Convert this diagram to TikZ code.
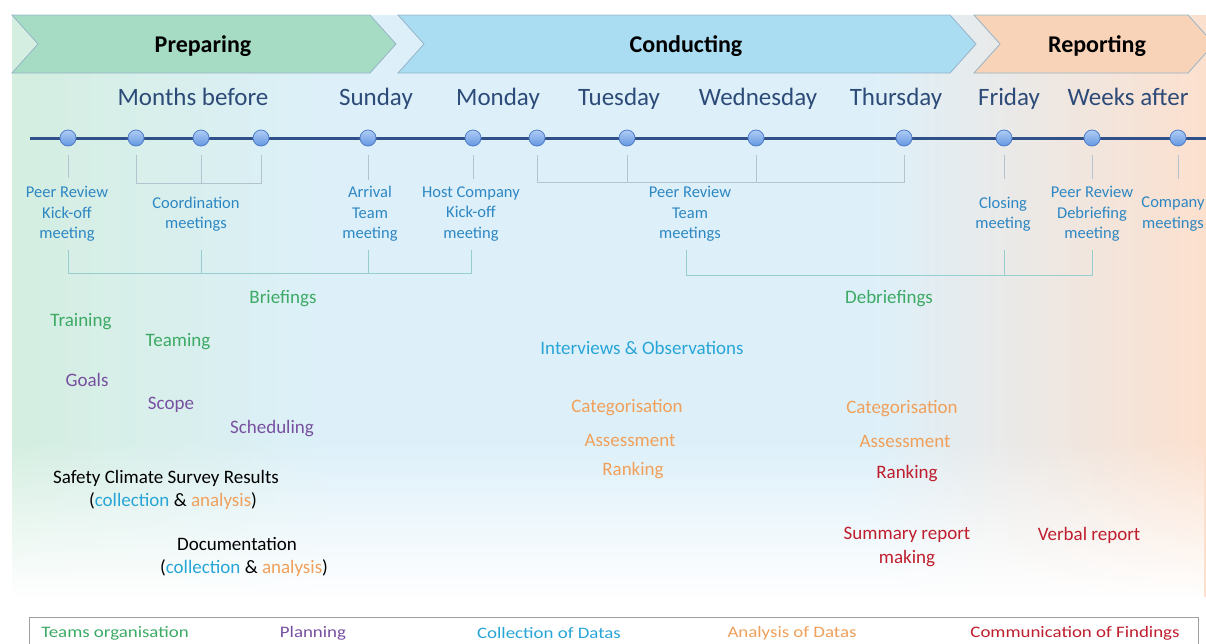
\documentclass[tikz,border=0pt]{standalone}
\usepackage{fontspec}
\setmainfont{Carlito}
\usetikzlibrary{fadings}
\definecolor{bgG}{RGB}{212,238,224}
\definecolor{bgB}{RGB}{221,240,250}
\definecolor{bgP}{RGB}{252,224,206}
\definecolor{prepF}{RGB}{166,220,196}
\definecolor{condF}{RGB}{170,220,242}
\definecolor{repF}{RGB}{248,211,184}
\definecolor{chevD}{RGB}{150,180,200}
\definecolor{dayblue}{RGB}{45,75,120}
\definecolor{lineblue}{RGB}{47,80,137}
\definecolor{dotT}{RGB}{175,205,245}
\definecolor{dotBt}{RGB}{100,150,225}
\definecolor{dotD}{RGB}{80,125,200}
\definecolor{lblue}{RGB}{45,135,195}
\definecolor{cgreen}{RGB}{60,170,100}
\definecolor{cpurple}{RGB}{120,80,160}
\definecolor{ccyan}{RGB}{40,165,215}
\definecolor{corange}{RGB}{240,160,90}
\definecolor{cred}{RGB}{190,30,45}
\definecolor{tickgray}{RGB}{180,195,205}
\definecolor{brteal}{RGB}{150,205,205}
\begin{document}
\begin{tikzpicture}[x=1pt,y=-1pt,
  chev/.style={draw=chevD, line width=0.8pt},
  title/.style={font=\fontsize{24}{28}\selectfont\bfseries, inner sep=0, anchor=base},
  day/.style={font=\fontsize{25}{30}\selectfont, text=dayblue, inner sep=0, anchor=base},
  dot/.style={circle, minimum size=16pt, inner sep=0, draw=dotD, line width=0.8pt, top color=dotT, bottom color=dotBt},
  lbl/.style={font=\fontsize{16.5}{20.5}\selectfont, text=lblue, align=center, inner sep=0},
  act/.style={font=\fontsize{19}{23.5}\selectfont, align=center, inner sep=0},
  leg/.style={font=\fontsize{16}{19}\selectfont, inner sep=0},
  tick/.style={draw=tickgray, line width=0.8pt},
  brack/.style={draw=brteal, line width=0.9pt}
]
\useasboundingbox (0,0) rectangle (1206,643);
% background
\shade[left color=bgG, right color=bgB] (12,15) rectangle (330.5,600);
\fill[bgB] (330,15) rectangle (870.5,600);
\shade[left color=bgB, right color=bgP] (870,15) rectangle (1206,600);
\fill[white, path fading=north] (0,440) rectangle (1206,598);
\fill[white] (0,597) rectangle (1206,643);
% chevrons
\path[chev, fill=prepF] (12,15) -- (370,15) -- (396,44) -- (370,73) -- (12,73) -- (38,44) -- cycle;
\path[chev, fill=condF] (398,15) -- (950,15) -- (976,44) -- (950,73) -- (398,73) -- (424,44) -- cycle;
\path[chev, fill=repF] (974,15) -- (1188,15) -- (1214,44) -- (1188,73) -- (974,73) -- (1000,44) -- cycle;
\node[title] (tprep) at (203,52) {Preparing};
\node[title] (tcond) at (686,52) {Conducting};
\node[title] (trep) at (1097,52) {Reporting};
% days
\node[day] (months) at (193,105) {Months before};
\node[day] (sun) at (376,105) {Sunday};
\node[day] (mon) at (498,105) {Monday};
\node[day] (tue) at (619,105) {Tuesday};
\node[day] (wed) at (758,105) {Wednesday};
\node[day] (thu) at (896,105) {Thursday};
\node[day] (fri) at (1009,105) {Friday};
\node[day] (wks) at (1128,105) {Weeks after};
% timeline
\coordinate (tlA) at (30,138);
\coordinate (tlB) at (1206,138);
\draw[lineblue, line width=3pt] (tlA) -- (tlB);
\foreach \i/\x in {1/68,2/136,3/201,4/261,5/368,6/473,7/537,8/627,9/756,10/904,11/1004,12/1092,13/1178}
  \node[dot] (d\i) at (\x,138) {};
% upper ticks
\draw[tick] (d1.south) ++(0,9) -- ++(0,23);
\draw[tick] (d2.south) ++(0,9) -- ++(0,28) -| (d4.south |- 0,155);
\draw[tick] (d3.south) ++(0,9) -- ++(0,28);
\draw[tick] (d5.south) ++(0,9) -- ++(0,25);
\draw[tick] (d6.south) ++(0,9) -- ++(0,24);
\draw[tick] (d7.south) ++(0,9) -- ++(0,27) -| (d10.south |- 0,155);
\draw[tick] (d8.south) ++(0,9) -- ++(0,27);
\draw[tick] (d9.south) ++(0,9) -- ++(0,27);
\draw[tick] (d11.south) ++(0,9) -- ++(0,24);
\draw[tick] (d12.south) ++(0,9) -- ++(0,24);
\draw[tick] (d13.south) ++(0,9) -- ++(0,24);
% meeting labels
\node[lbl] (m1) at (67,214) {Peer Review\\Kick-off\\meeting};
\node[lbl] (m2) at (196,214) {Coordination\\meetings};
\node[lbl] (m3) at (370,214) {Arrival\\Team\\meeting};
\node[lbl] (m4) at (471,214) {Host Company\\Kick-off\\meeting};
\node[lbl] (m5) at (690,214) {Peer Review\\Team\\meetings};
\node[lbl] (m6) at (1003,214) {Closing\\meeting};
\node[lbl] (m7) at (1092,214) {Peer Review\\Debriefing\\meeting};
\node[lbl] (m8) at (1173,214) {Company\\meetings};
% lower brackets
\coordinate (bA) at (68,250); \coordinate (bB) at (201,250);
\coordinate (bC) at (368,250); \coordinate (bD) at (471,250);
\draw[brack] (bA) -- (68,273) -- (471,273) -- (bD);
\draw[brack] (bB) -- (201,273);
\draw[brack] (bC) -- (368,273);
\coordinate (eA) at (686,250); \coordinate (eB) at (1004,250); \coordinate (eC) at (1092,250);
\draw[brack] (eA) -- (686,275) -- (1092,275) -- (eC);
\draw[brack] (eB) -- (1004,275);
% activities
\node[act, text=cgreen] (brief) at (283,299) {Briefings};
\node[act, text=cgreen] (train) at (81,322) {Training};
\node[act, text=cgreen] (team) at (178,342) {Teaming};
\node[act, text=cgreen] (debrief) at (889,299) {Debriefings};
\node[act, text=cpurple] (goals) at (87,380) {Goals};
\node[act, text=cpurple] (scope) at (171,405) {Scope};
\node[act, text=cpurple] (sched) at (272,429) {Scheduling};
\node[act] (survey) at (166,490) {Safety Climate Survey Results\\\hspace*{14pt}(\textcolor{ccyan}{collection} \& \textcolor{corange}{analysis})};
\node[act] (doc) at (237,557) {Documentation\\\hspace*{14pt}(\textcolor{ccyan}{collection} \& \textcolor{corange}{analysis})};
\node[act, text=ccyan] (interv) at (642,348) {Interviews \& Observations};
\node[act, text=corange] (cat1) at (627,408) {Categorisation};
\node[act, text=corange] (ass1) at (630,440) {Assessment};
\node[act, text=corange] (rank1) at (633,471) {Ranking};
\node[act, text=corange] (cat2) at (902,409) {Categorisation};
\node[act, text=corange] (ass2) at (905,441) {Assessment};
\node[act, text=cred] (rank2) at (907,474) {Ranking};
\node[act, text=cred] (summ) at (907,547) {Summary report\\making};
\node[act, text=cred] (verbal) at (1089,535) {Verbal report};
% legend
\draw[gray!75, line width=1pt] (29,617) rectangle (1198,670);
\node[leg, text=cgreen] (l1) at (115,633) {\scalebox{1.18}[1]{Teams organisation}};
\node[leg, text=cpurple] (l2) at (313,633) {\scalebox{1.18}[1]{Planning}};
\node[leg, text=ccyan] (l3) at (549,633) {\scalebox{1.18}[1]{Collection of Datas}};
\node[leg, text=corange] (l4) at (792,633) {\scalebox{1.18}[1]{Analysis of Datas}};
\node[leg, text=cred] (l5) at (1075,633) {\scalebox{1.18}[1]{Communication of Findings}};
\end{tikzpicture}
\end{document}
